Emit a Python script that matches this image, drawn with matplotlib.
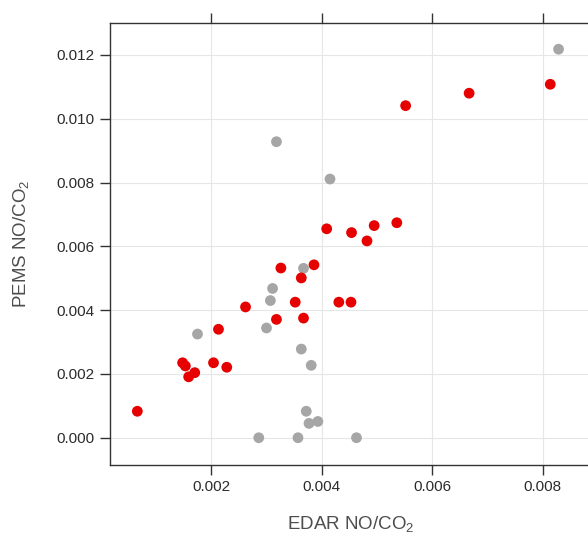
import numpy as np
import matplotlib
matplotlib.use("Agg")
import matplotlib.pyplot as plt

plt.rcParams['font.family'] = ['Liberation Sans', 'DejaVu Sans']
plt.rcParams['mathtext.default'] = 'regular'

# red points
red_x = [0.00066, 0.00148, 0.00153, 0.00159, 0.00170, 0.00204, 0.00228, 0.00213,
         0.00262, 0.00318, 0.00326, 0.00352, 0.00386, 0.00363, 0.00367, 0.00431,
         0.00453, 0.00409, 0.00454, 0.00495, 0.00536, 0.00482, 0.00552, 0.00667, 0.00814]
red_y = [0.00083, 0.00235, 0.00225, 0.00191, 0.00204, 0.00235, 0.00221, 0.00340,
         0.00410, 0.00371, 0.00532, 0.00425, 0.00542, 0.00501, 0.00375, 0.00425,
         0.00425, 0.00655, 0.00643, 0.00665, 0.00674, 0.00617, 0.01041, 0.01080, 0.01108]

# grey points
grey_x = [0.00318, 0.00415, 0.00829, 0.00367, 0.00175, 0.00311, 0.00307, 0.00300,
          0.00286, 0.00357, 0.00363, 0.00381, 0.00372, 0.00377, 0.00393, 0.00463]
grey_y = [0.00928, 0.00811, 0.01218, 0.00531, 0.00325, 0.00468, 0.00430, 0.00344,
          0.00000, 0.00000, 0.00278, 0.00227, 0.00083, 0.00045, 0.00051, 0.00000]

xticks = [0.002, 0.004, 0.006, 0.008]
yticks = [0.000, 0.002, 0.004, 0.006, 0.008, 0.010, 0.012]

fig = plt.figure(figsize=(5.88, 5.37), dpi=100)
ax = fig.add_axes([0.1866, 0.134, 0.8206, 0.8231])

ax.scatter(grey_x, grey_y, s=60, color='#A6A6A6', edgecolors='none', zorder=3)
ax.scatter(red_x, red_y, s=60, color='#E60000', edgecolors='none', zorder=3)

ax.set_xlim(0.00016, 0.0089)
ax.set_ylim(-0.000856, 0.0130)
ax.set_xticks(xticks)
ax.set_yticks(yticks)
ax.set_xticklabels([f"{v:.3f}" for v in xticks])
ax.set_yticklabels([f"{v:.3f}" for v in yticks])
ax.grid(True, color='#E6E6E6', linewidth=0.8, zorder=0)
ax.set_axisbelow(True)

for s in ax.spines.values():
    s.set_color('#333333')
    s.set_linewidth(1.0)
ax.tick_params(direction='out', length=7, width=1, color='#333333',
               labelsize=11, labelcolor='#2B2B2B', pad=4,
               top=True, right=True, labeltop=False, labelright=False)

ax.set_xlabel('EDAR NO/CO$_2$', fontsize=13.5, color='#4D4D4D', labelpad=14)
ax.set_ylabel('PEMS NO/CO$_2$', fontsize=13.5, color='#4D4D4D', labelpad=18)

fig.savefig('out.png', dpi=100)
